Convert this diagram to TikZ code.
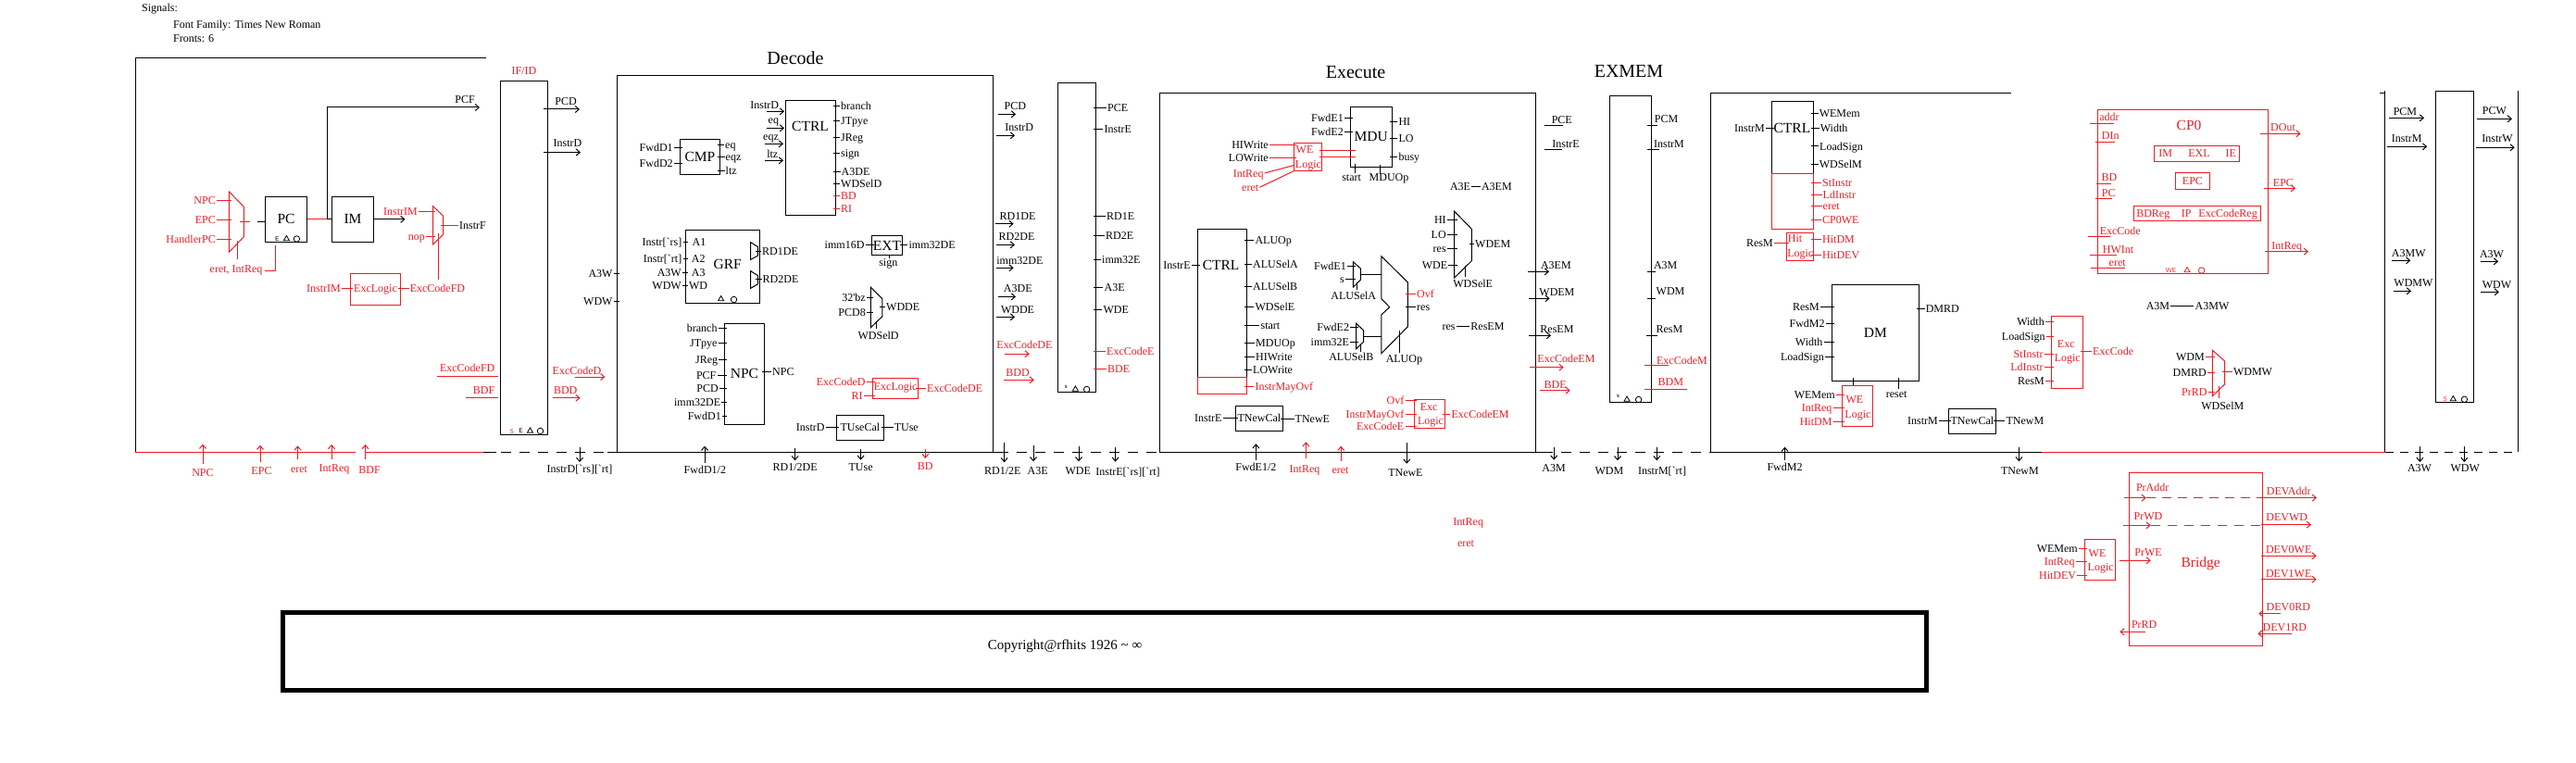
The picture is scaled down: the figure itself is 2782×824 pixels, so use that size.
\documentclass[tikz,border=0pt]{standalone}
\usepackage{fontspec}
\setmainfont[Ligatures=TeXOff]{Liberation Serif}
\usepackage{xcolor}
\usetikzlibrary{arrows.meta,positioning,calc,fit,shapes.geometric}
\definecolor{ink}{HTML}{000000}
\definecolor{hotred}{HTML}{ED1C24}
\tikzset{
  >={Straight Barb[length=4pt,width=7pt]},
  wire/.style={line width=1pt},
  stub/.style={line width=1pt,shorten >=-3pt},
  arrowed/.style={->},
  plain/.style={},
  sig/.style={font=\fontsize{12}{14}\selectfont,inner xsep=1pt,inner ysep=0pt,text height=8pt,text depth=0pt},
  bigtext/.style={font=\fontsize{15.5}{18}\selectfont,inner sep=0pt,text height=10pt,text depth=0pt},
  titletext/.style={font=\fontsize{20}{24}\selectfont,inner sep=0pt,text height=13pt,text depth=0pt},
  tinytext/.style={font=\sffamily\fontsize{7}{8}\selectfont,inner sep=0pt},
  block/.style={draw=ink,line width=1pt,inner sep=0pt,font=\fontsize{15.5}{18}\selectfont},
  smallblock/.style={block,font=\fontsize{12}{14}\selectfont},
  redblock/.style={block,draw=hotred,text=hotred,font=\fontsize{12}{14}\selectfont},
  clocktri/.style={regular polygon,regular polygon sides=3,minimum size=7pt,inner sep=0pt,line width=.8pt},
  clockdot/.style={circle,minimum size=6.5pt,inner sep=0pt,line width=.8pt},
}
\begin{document}
\begin{tikzpicture}[x=1pt,y=-1pt]
  \useasboundingbox (0,0) rectangle (2782,824);

  \node[sig,anchor=west] (sigHead) at (152,9) {Signals:};
  \node[sig,anchor=west] (sigFont) at (186,27) {Font Family: Times New Roman};
  \node[sig,anchor=west] (sigSize) at (186,41.5) {Fronts: 6};

  \draw[wire,ink] (525,63) -- (146,63) -- (146,488);
  \draw[wire,hotred] (146,488) -- (384,488);
  \draw[wire,hotred] (394,488) -- (521.5,488);
  \draw[wire,ink] (521.5,488) -- (536,488);
  \draw[wire,ink,dash pattern=on 11pt off 9pt] (541,488) -- (656,488);
  \draw[wire,ink] (656,488) -- (1078,488);
  \draw[wire,ink,dash pattern=on 11pt off 9pt] (1078,488) -- (1252,488);
  \draw[wire,ink] (1252,488) -- (1666,488);
  \draw[wire,ink,dash pattern=on 11pt off 9pt] (1666,488) -- (1847,488);
  \draw[wire,ink] (2171.8,100.3) -- (1847.5,100.3) -- (1847.5,488) -- (2204.6,488);
  \draw[wire,hotred] (2204.6,488) -- (2576,488);
  \draw[wire,ink,dash pattern=on 9pt off 7pt] (2576,488) -- (2719.6,488);
  \draw[wire,ink] (2719.6,488) -- (2719.6,98.3);
  \draw[wire,ink] (2570,100.3) -- (2575.5,100.3);
  \draw[wire,ink] (2575.5,98.3) -- (2575.5,488);

  \node[block,minimum width=406.1pt,minimum height=406.7pt] (decodeBox) at (869.5,284.7) {};
  \node[block,minimum width=405.7pt,minimum height=388pt] (executeBox) at (1455.3,294.3) {};
  \node[titletext] (decodeTitle) at (859,63) {Decode};
  \node[titletext] (executeTitle) at (1464,78.3) {Execute};
  \node[titletext] (exmemTitle) at (1759,77.3) {EXMEM};

  \node[block,minimum width=50.5pt,minimum height=381pt] (regIF) at (566.2,278.5) {};
  \node[block,minimum width=40.7pt,minimum height=334pt] (regDE) at (1162.9,256.3) {};
  \node[block,minimum width=45pt,minimum height=331pt] (regEM) at (1760.7,268.8) {};
  \node[block,minimum width=41pt,minimum height=336pt] (regMW) at (2651.1,266.3) {};

  \node[block,minimum width=45.5pt,minimum height=49.5pt] (pc) at (309,236.8) {PC};
  \node[block,minimum width=45.5pt,minimum height=49.5pt] (im) at (381,236.8) {IM};
  \node[redblock,minimum width=54.4pt,minimum height=34.7pt] (excF) at (405.5,312.6) {ExcLogic};
  \node[block,minimum width=43.2pt,minimum height=38pt] (cmp) at (755.9,169.3) {CMP};
  \node[block,minimum width=54.3pt,minimum height=124pt] (ctrlD) at (875.3,170.3) {};
  \node[block,minimum width=80pt,minimum height=79pt] (grf) at (780.4,287.8) {};
  \node[block,minimum width=42.9pt,minimum height=109pt] (npcBox) at (804,403.8) {NPC};
  \node[block,minimum width=32.9pt,minimum height=21.4pt] (ext) at (957.9,265) {EXT};
  \node[redblock,minimum width=48.5pt,minimum height=22pt] (excD) at (967.2,419.3) {ExcLogic};
  \node[smallblock,minimum width=51.4pt,minimum height=27pt] (tuse) at (928.9,461.8) {TUseCal};
  \node[block,minimum width=45pt,minimum height=65pt] (mdu) at (1480.7,147.8) {MDU};
  \node[redblock,minimum width=30pt,minimum height=30pt] (weE) at (1412.5,169.3) {};
  \node[block,minimum width=53.2pt,minimum height=160pt] (ctrlE) at (1319.8,327.3) {};
  \node[redblock,minimum width=53.2pt,minimum height=18pt] (ctrlEr) at (1319.8,416.3) {};
  \node[redblock,minimum width=32.9pt,minimum height=31pt] (excE) at (1544,446.8) {};
  \node[smallblock,minimum width=51.1pt,minimum height=27pt] (tnewE) at (1359.9,451.8) {TNewCal};
  \node[block,minimum width=45pt,minimum height=78pt] (ctrlM) at (1935.7,148.3) {};
  \node[redblock,minimum width=45pt,minimum height=60pt] (ctrlMr) at (1935.7,217.3) {};
  \node[redblock,minimum width=28.9pt,minimum height=30pt] (hitM) at (1943.8,266.3) {};
  \node[block,minimum width=94.3pt,minimum height=104pt] (dm) at (2025.4,359.3) {DM};
  \node[redblock,minimum width=33.2pt,minimum height=44pt] (weM) at (2005.9,438.3) {};
  \node[smallblock,minimum width=51.1pt,minimum height=27pt] (tnewM) at (2129.9,454.8) {TNewCal};
  \node[redblock,minimum width=184.3pt,minimum height=177pt] (cp0) at (2357.4,206.8) {};
  \node[redblock,minimum width=91.7pt,minimum height=17.4pt] (cpStatus) at (2372.4,166) {};
  \node[redblock,minimum width=36.7pt,minimum height=18.4pt] (cpEpc) at (2367.9,195.5) {EPC};
  \node[redblock,minimum width=137pt,minimum height=16pt] (cpCause) at (2372.8,230.3) {};
  \node[redblock,minimum width=34.3pt,minimum height=78pt] (excM) at (2232.5,380.3) {};
  \node[redblock,minimum width=144pt,minimum height=187pt] (bridge) at (2371.3,603.8) {};
  \node[redblock,minimum width=33.4pt,minimum height=44pt] (weB) at (2268,604.3) {};
  \node[block,line width=5pt,minimum width=1774.9pt,minimum height=84pt] (copyBox) at (1193,703.5) {};
  \node[font=\fontsize{15}{18}\selectfont,inner sep=0pt] (copyText) at (1150,698) {Copyright@rfhits 1926 \textasciitilde{} ∞};

  \foreach \nm/\xa/\xb/\ya/\yb/\yc/\yd/\cc in {
    muxPC/247.4/263.3/207/223.3/255.7/272.3/hotred, muxIF/467.5/478.5/222.6/233/253.4/264/hotred,
    portA/810.7/818.6/261.7/266.7/276/280.3/ink, portB/810.7/818.6/292.7/297.7/306.7/311.3/ink,
    muxWD/940.4/952.9/310.3/322.7/341.7/353.7/ink, muxEM/1570.7/1589.3/228.3/247.3/281.7/300/ink,
    muxA/1461.4/1469.3/282.7/290/302.3/310/ink, muxB/1464.6/1472.5/349.3/356.7/369.3/376.7/ink,
    muxMW/2389.4/2402.6/378.3/390/415/427.7/hotred} {
    \coordinate (\nm A) at (\xa,\ya);
    \coordinate (\nm B) at (\xb,\yd);
    \draw[wire,color=\cc] (\nm A) -- (\xb,\yb) -- (\xb,\yc) -- (\xa,\yd) -- cycle;
    \node[inner sep=0pt,fit=(\nm A)(\nm B)] (\nm) {};
  }
  \coordinate (aluA) at (1491.8,276.7);
  \coordinate (aluB) at (1520.4,381.7);
  \draw[wire,ink] (aluA) -- (1520.4,305) -- (1520.4,352.7) -- (1491.8,381.7) -- (1491.8,340)
    -- (1500.7,331.7) -- (1491.8,322.7) -- cycle;
  \node[inner sep=0pt,fit=(aluA)(aluB)] (alu) {};

  \foreach \nm/\x/\y/\bx/\tc/\cc/\txt in {
    fNpc/234/216/muxPC/hotred/hotred/NPC, fEpc/234/237/muxPC/hotred/hotred/EPC, fHpc/234/258/muxPC/hotred/hotred/HandlerPC,
    fImL/452/228.5/muxIF/hotred/hotred/InstrIM, fNop/460/255/muxIF/hotred/hotred/nop, fImX/369/311.5/excF/hotred/hotred/InstrIM,
    dA3w/662.7/295.6/decodeBox/ink/ink/A3W, dWdw/662.7/325/decodeBox/ink/ink/WDW,
    dFwdA/727.9/159.3/cmp/ink/ink/FwdD1, dFwdB/727.9/176.7/cmp/ink/ink/FwdD2,
    dRs/737.5/261.7/grf/ink/ink/Instr[`rs], dRt/737.5/279/grf/ink/ink/Instr[`rt], dGa/737/294/grf/ink/ink/A3W, dGw/737/308.3/grf/ink/ink/WDW,
    dNb/775.7/354/npcBox/ink/ink/branch, dNj/775.7/370.7/npcBox/ink/ink/JTpye, dNr/776.4/388.3/npcBox/ink/ink/JReg,
    dNf/774.6/405.7/npcBox/ink/ink/PCF, dNd/777/419.7/npcBox/ink/ink/PCD, dNi/779.3/434/npcBox/ink/ink/imm32DE, dNw/780/449.7/npcBox/ink/ink/FwdD1,
    dImm/934.6/264.7/ext/ink/ink/imm16D, dBz/936/321/muxWD/ink/ink/32'bz, dPc8/936/337.3/muxWD/ink/ink/PCD8,
    dXc/935.7/412.7/excD/hotred/hotred/ExcCodeD, dXr/932.9/427.3/excD/hotred/hotred/RI, dTu/891.8/461/tuse/ink/ink/InstrD,
    eFwdA/1452/127.7/mdu/ink/ink/FwdE1, eFwdB/1452/142.3/mdu/ink/ink/FwdE2,
    eHiw/1371/156.7/weE/ink/hotred/HIWrite, eLow/1371/171/weE/ink/hotred/LOWrite,
    eMh/1562.9/237.7/muxEM/ink/ink/HI, eMl/1562.9/253.7/muxEM/ink/ink/LO, eMr/1562.9/268.7/muxEM/ink/ink/res, eMw/1564.3/286.7/muxEM/ink/ink/WDE,
    eCt/1287/286.7/ctrlE/ink/ink/InstrE, eAa/1455/287.7/muxA/ink/ink/FwdE1, eAs/1452.9/301.7/muxA/ink/ink/s,
    eBa/1458.2/353.7/muxB/ink/ink/FwdE2, eBi/1458.2/369/muxB/ink/ink/imm32E,
    eXo/1517.5/432.7/excE/hotred/hotred/Ovf, eXm/1517.5/447/excE/hotred/hotred/InstrMayOvf, eXc/1517.5/460.7/excE/hotred/hotred/ExcCodeE,
    eTn/1320.7/451.7/tnewE/ink/ink/InstrE,
    mCt/1907/138.7/ctrlM/ink/ink/InstrM, mHr/1916/262.3/hitM/ink/hotred/ResM,
    mDr/1966/331.7/dm/ink/ink/ResM, mDf/1971.8/349.7/dm/ink/ink/FwdM2, mDw/1969.6/369.7/dm/ink/ink/Width, mDl/1971/385.3/dm/ink/ink/LoadSign,
    mWw/1983/426.7/weM/ink/hotred/WEMem, mWi/1979.6/440/weM/hotred/hotred/IntReq, mWh/1979.6/455.7/weM/hotred/hotred/HitDM,
    mTn/2094/454.7/tnewM/ink/ink/InstrM,
    mXw/2209/347.7/excM/ink/hotred/Width, mXl/2209.8/363.3/excM/ink/hotred/LoadSign, mXs/2207.9/382.7/excM/hotred/hotred/StInstr,
    mXd/2207.9/396/excM/hotred/hotred/LdInstr, mXr/2209/411.7/excM/ink/hotred/ResM,
    wMd/2382/385.3/muxMW/ink/hotred/WDM, wMr/2383.9/402.3/muxMW/ink/hotred/DMRD, wMp/2384.7/423.7/muxMW/hotred/hotred/PrRD,
    bWw/2245/592.7/weB/ink/hotred/WEMem, bWi/2241.7/606/weB/hotred/hotred/IntReq, bWh/2243.3/621.7/weB/hotred/hotred/HitDEV} {
    \node[sig,anchor=east,text=\tc] (\nm) at (\x,\y) {\txt};
    \draw[stub,color=\cc] (\nm.east) -- (\nm.east -| \bx.west);
  }

  \foreach \nm/\x/\y/\bx/\tc/\cc/\txt in {
    fOut/495/243/muxIF/ink/hotred/InstrF, fXc/441.6/311.5/excF/hotred/hotred/ExcCodeFD,
    dEq/782/156.7/cmp/ink/ink/eq, dEz/782.5/169.3/cmp/ink/ink/eqz, dLt/782.5/184/cmp/ink/ink/ltz,
    dCb/907/115/ctrlD/ink/ink/branch, dCj/907/131/ctrlD/ink/ink/JTpye, dCr/907/149/ctrlD/ink/ink/JReg, dCs/907/165.7/ctrlD/ink/ink/sign,
    dCa/907.5/185.7/ctrlD/ink/ink/A3DE, dCw/907/198.7/ctrlD/ink/ink/WDSelD, dCd/907/211.7/ctrlD/hotred/hotred/BD, dCi/907/225.7/ctrlD/hotred/hotred/RI,
    dRa/822/271.3/portA/ink/ink/RD1DE, dRb/822.5/301.7/portB/ink/ink/RD2DE, dNo/833/401.3/npcBox/ink/ink/NPC,
    dEo/980.4/264.7/ext/ink/ink/imm32DE, dWo/956/331.7/muxWD/ink/ink/WDDE, dXo/1000/419.3/excD/hotred/hotred/ExcCodeDE, dTo/964.6/461.7/tuse/ink/ink/TUse,
    eRp/1195/116.7/regDE/ink/ink/PCE, eRi/1191.4/140/regDE/ink/ink/InstrE, eRa/1194/233.3/regDE/ink/ink/RD1E, eRb/1193/254.7/regDE/ink/ink/RD2E,
    eRm/1189/280/regDE/ink/ink/imm32E, eRt/1191.4/310.7/regDE/ink/ink/A3E, eRw/1190.4/334.7/regDE/ink/ink/WDE,
    eRx/1194/379.7/regDE/hotred/hotred/ExcCodeE, eRd/1195/398.7/regDE/hotred/hotred/BDE,
    eUh/1509.3/131.3/mdu/ink/ink/HI, eUl/1509.3/149.3/mdu/ink/ink/LO, eUb/1509.3/170/mdu/ink/ink/busy,
    eCa/1354.3/259/ctrlE/ink/ink/ALUOp, eCb/1352/285.7/ctrlE/ink/ink/ALUSelA, eCc/1352/309.7/ctrlE/ink/ink/ALUSelB, eCd/1354.3/331.7/ctrlE/ink/ink/WDSelE,
    eCe/1360.4/351/ctrlE/ink/ink/start, eCf/1355/370/ctrlE/ink/ink/MDUOp, eCg/1355/385.7/ctrlE/ink/ink/HIWrite, eCh/1352/399.7/ctrlE/ink/ink/LOWrite,
    eCi/1354.3/417.7/ctrlEr/hotred/hotred/InstrMayOvf, eMo/1592/263.3/muxEM/ink/ink/WDEM,
    eOv/1529/317.7/alu/hotred/hotred/Ovf, eRs/1529/331.3/alu/ink/ink/res, eXo2/1566.4/447.7/excE/hotred/hotred/ExcCodeEM, eTo/1397.5/452.7/tnewE/ink/ink/TNewE,
    mCa/1963.6/122.7/ctrlM/ink/ink/WEMem, mCb/1964.6/138.7/ctrlM/ink/ink/Width, mCc/1964/158/ctrlM/ink/ink/LoadSign, mCd/1963.6/177.3/ctrlM/ink/ink/WDSelM,
    mCe/1967/197/ctrlMr/hotred/hotred/StInstr, mCf/1967.5/210/ctrlMr/hotred/hotred/LdInstr, mCg/1967.5/222.3/ctrlMr/hotred/hotred/eret, mCh/1967/237.7/ctrlMr/hotred/hotred/CP0WE,
    mHa/1967/258/hitM/hotred/hotred/HitDM, mHb/1967/275.7/hitM/hotred/hotred/HitDEV, mDo/2078.6/333.7/dm/ink/ink/DMRD, mTo/2165.4/454.7/tnewM/ink/ink/TNewM,
    mXo/2259/379.7/excM/hotred/hotred/ExcCode, wMo/2410.8/401.7/muxMW/ink/hotred/WDMW} {
    \node[sig,anchor=west,text=\tc] (\nm) at (\x,\y) {\txt};
    \draw[stub,color=\cc] (\nm.west) -- (\nm.west -| \bx.east);
  }

  \foreach \nm/\xa/\xb/\y/\lx/\ly/\cc/\tip/\txt in {
    fPcd/587/626/118/611/109.5/ink/arrowed/PCD, fIns/587/627/164.5/613/154.5/ink/arrowed/InstrD,
    fXd/620.7/653.4/407/623/400/hotred/arrowed/ExcCodeD, fBd/597/626.6/429.7/610.7/421.3/hotred/arrowed/BDD,
    fXf/472/538/406/504.7/397.3/hotred/plain/ExcCodeFD, fBf/503/538/429/522.6/421.3/hotred/plain/BDF,
    dIi/827.5/847/120.3/825.7/113.3/ink/arrowed/InstrD, dIe/827.5/847/138.3/835.4/130/ink/arrowed/eq,
    dIz/826/846/155.3/832.5/147.7/ink/arrowed/eqz, dIl/826/846/173.3/834.3/167/ink/arrowed/ltz,
    dOp/1077.5/1097/123.3/1096.4/114.7/ink/arrowed/PCD, dOi/1076/1096/146.3/1100.7/137.7/ink/arrowed/InstrD,
    dOa/1075/1094.6/241.7/1099/233.7/ink/arrowed/RD1DE, dOb/1076/1096/264.3/1098/255.7/ink/arrowed/RD2DE,
    dOm/1076/1094.6/289.3/1101.4/281.7/ink/arrowed/imm32DE, dOt/1077.5/1097/320.3/1099.3/311.7/ink/arrowed/A3DE,
    dOw/1076/1096/342.3/1099/334.7/ink/arrowed/WDDE, dOx/1084.6/1111.8/382.3/1106.4/372.7/hotred/arrowed/ExcCodeDE,
    dOd/1084/1116.8/410.3/1099/402.7/hotred/arrowed/BDD,
    ePc/1668/1688/135.7/1686.8/129.3/ink/plain/PCE, eIn/1668/1686.8/161.3/1691/155.7/ink/plain/InstrE,
    eAt/1650.4/1673/293.3/1680.4/286.7/ink/arrowed/A3EM, eWd/1651/1673.6/322.3/1681.4/315.7/ink/arrowed/WDEM,
    eRm2/1651/1675/362.3/1681.4/355.7/ink/arrowed/ResEM, eXa/1652/1688.6/396.7/1691.4/387.7/hotred/arrowed/ExcCodeEM,
    eBd/1662.5/1695.7/421.7/1679.6/415/hotred/arrowed/BDE,
    mPc/1779/1790/135.7/1799.5/128.7/ink/plain/PCM, mIn/1779/1792/161.3/1802.5/155.7/ink/plain/InstrM,
    mAt/1779/1788/293.3/1798.7/286.7/ink/plain/A3M, mWd/1779/1788/322.3/1804/314.7/ink/plain/WDM,
    mRs/1778/1790.4/362.3/1802.9/355.7/ink/plain/ResM, mXc/1776/1802/394.3/1816.4/389/hotred/plain/ExcCodeM,
    mBd/1776/1821.8/420.3/1804.3/412.7/hotred/plain/BDM,
    cAd/2257/2283.2/133.3/2278/127/hotred/plain/addr, cDi/2262.9/2284/153.3/2279.3/146.7/hotred/plain/DIn,
    cBd/2263.7/2280/198.3/2278/191.7/hotred/plain/BD, cPc/2263/2281/214.3/2277.3/208.7/hotred/plain/PC,
    cXc/2255/2278.5/255.3/2289.8/249/hotred/plain/ExcCode, cHw/2257/2286/275.3/2287.5/269/hotred/plain/HWInt,
    cEr/2257.8/2295/289.3/2286.7/283.3/hotred/plain/eret,
    cDo/2440.9/2484.6/144.3/2465.5/138/hotred/arrowed/DOut, cEp/2445/2479/203.3/2465.9/197.3/hotred/arrowed/EPC,
    cIr/2446/2493/271.7/2469.8/265/hotred/arrowed/IntReq,
    wPm/2579.8/2618/127.3/2597.4/120.3/ink/arrowed/PCM, wIm/2577.9/2621.2/158.3/2599.3/149.7/ink/arrowed/InstrM,
    wAm/2582.6/2603.3/281.3/2601.3/273.7/ink/arrowed/A3MW, wDm/2584.5/2604/314.3/2606.4/305.7/ink/arrowed/WDMW,
    wPw/2675/2712.9/128.3/2693.8/119.7/ink/arrowed/PCW, wIw/2673.9/2715.7/159.3/2697/149.7/ink/arrowed/InstrW,
    wAw/2678.6/2698/282.3/2691/274.7/ink/arrowed/A3W, wDw/2679/2698.9/315.3/2696.5/307.7/ink/arrowed/WDW,
    bPa/2294/2317.7/537.7/2324.7/526.7/hotred/arrowed/PrAddr, bPd/2292.7/2322.7/567.3/2320/557.7/hotred/arrowed/PrWD,
    bPe/2289/2322.7/605.3/2320/596.7/hotred/arrowed/PrWE, bPr/2316.7/2289.3/682.3/2315.7/674.7/hotred/arrowed/PrRD,
    bDa/2440.7/2502/537.7/2471.7/530.7/hotred/arrowed/DEVAddr, bDd/2442.3/2496/566.7/2469.7/558.7/hotred/arrowed/DEVWD,
    bDw/2441.7/2501.7/600.3/2471.7/593.7/hotred/arrowed/DEV0WE, bDx/2441.7/2501.7/625.7/2471.7/619.7/hotred/arrowed/DEV1WE,
    bDr/2463.3/2439.3/662.7/2471.3/655.3/hotred/arrowed/DEV0RD, bDs/2475/2438.3/684.3/2467.3/677.3/hotred/arrowed/DEV1RD} {
    \coordinate (\nm A) at (\xa,\y);
    \coordinate (\nm B) at (\xb,\y);
    \draw[wire,color=\cc,\tip] (\nm A) -- (\nm B);
    \node[sig,text=\cc] (\nm) at (\lx,\ly) {\txt};
  }

  \foreach \nm/\x/\ya/\yb/\lx/\ly/\cc/\txt in {
    vNpc/219/500.7/479.7/219/510/hotred/NPC, vEpc/281/499.3/480.7/282.5/508.4/hotred/EPC, vEret/321.5/495.6/481.4/323/506.8/hotred/eret,
    vReq/358/495.6/480/361/505.7/hotred/IntReq, vBdf/394.5/495.6/480/399/507.4/hotred/BDF, vInd/626/483/499/626/506.8/ink/InstrD[`rs][`rt],
    vFd/761/500/481.7/761.4/507.7/ink/{FwdD1/2}, vRd/858.6/484.3/497.3/858.6/504.7/ink/{RD1/2DE}, vTu/929.6/485/496.7/929.6/504.7/ink/TUse,
    vBd/999.3/485/495/999.3/503.7/hotred/BD, vRe/1084.6/478/499.3/1082.9/508.3/ink/{RD1/2E}, vAe/1116/480.7/498.3/1120.7/508/ink/A3E,
    vWe/1165/481.7/498.3/1164.3/508.7/ink/WDE, vIne/1204.6/482.7/498.7/1218/509/ink/InstrE[`rs][`rt], vFe/1356.4/496.7/479.3/1356.4/504.7/ink/{FwdE1/2},
    vReqE/1410.4/495/477.3/1409/506/hotred/IntReq, vEretE/1448.2/498.3/481.7/1447.5/507.3/hotred/eret, vTn/1519.3/478.3/500.7/1517.9/510.7/ink/TNewE,
    vAm/1678.2/483.3/496.7/1678/505.3/ink/A3M, vWm/1747/483.3/497.3/1737.9/508.3/ink/WDM, vInm/1789.3/483.3/497.3/1795/508/ink/InstrM[`rt],
    vFm/1927.5/496.7/482.7/1927.5/504.7/ink/FwdM2, vTm/2180.4/482.7/498.3/2181.4/508.7/ink/TNewM,
    vAw/2613.4/482.3/499/2613/505.3/ink/A3W, vWw/2661.4/482.3/499/2662.2/505.3/ink/WDW} {
    \coordinate (\nm A) at (\x,\ya);
    \coordinate (\nm B) at (\x,\yb);
    \draw[wire,color=\cc,->] (\nm A) -- (\nm B);
    \node[sig,text=\cc] (\nm) at (\lx,\ly) {\txt};
  }

  \foreach \nm/\x/\y/\cc/\txt in {
    ifTitle/566/77/hotred/{IF/ID}, fSel/255/290/hotred/{eret, IntReq}, fPcf/502/107.5/ink/PCF,
    gA/755/261.7/ink/A1, gB/754.3/279/ink/A2, gC/754.3/294/ink/A3, gD/754/308.3/ink/WD,
    dSg/959.3/283.3/ink/sign, dWs/948.6/362.3/ink/WDSelD,
    eStart/1459.6/191.3/ink/start, eMop/1500/191.7/ink/MDUOp, eWs/1590.7/306.7/ink/WDSelE,
    eSa/1461.8/319.3/ink/ALUSelA, eSb/1459.3/385.7/ink/ALUSelB, eAo/1516.4/387.3/ink/ALUOp,
    a3E/1577/201.7/ink/A3E, a3Em/1616.4/201.7/ink/A3EM, resE/1564.6/352.3/ink/res, resEm/1606.4/352.3/ink/ResEM,
    weEa/1409/161.7/hotred/WE, weEb/1412.9/177.3/hotred/Logic, exEa/1543.2/439/hotred/Exc, exEb/1545/454/hotred/Logic,
    hitA/1938.6/257.7/hotred/Hit, hitB/1944.3/273.3/hotred/Logic, weMa/2002.9/431.7/hotred/WE, weMb/2006.4/447/hotred/Logic,
    exMa/2231.3/371/hotred/Exc, exMb/2232.8/386/hotred/Logic, weBa/2265/597.3/hotred/WE, weBb/2268.7/612.7/hotred/Logic,
    mRst/2048.2/425.7/ink/reset, a3M/2330.4/330.3/ink/A3M, a3Mw/2389/330.3/ink/A3MW, wSl/2400.3/438.7/ink/WDSelM,
    stIm/2338.6/165.7/hotred/IM, stEx/2374.9/165.7/hotred/EXL, stIe/2409.3/165.7/hotred/IE,
    caBd/2325.3/230/hotred/BDReg, caIp/2361.3/230/hotred/IP, caEx/2406.1/230/hotred/ExcCodeReg,
    loReq/1585.7/563.3/hotred/IntReq, loEr/1583/586.7/hotred/eret} {
    \node[sig,text=\cc] (\nm) at (\x,\y) {\txt};
  }

  \foreach \nm/\x/\y/\cc/\txt in {
    ctrlDt/875/136.7/ink/CTRL, grfT/785.7/285/ink/GRF, ctrlEt/1318.6/286.7/ink/CTRL, ctrlMt/1935.4/138.3/ink/CTRL,
    cp0T/2364/135.7/hotred/CP0, bridgeT/2376.7/607/hotred/Bridge} {
    \node[bigtext,text=\cc] (\nm) at (\x,\y) {\txt};
  }

  \foreach \nm/\xa/\ya/\xb/\yb/\cc in {
    selPC/256.4/259.5/256.4/280.4/hotred, selIF/473.3/251.7/473.3/302.4/hotred, extSel/960.7/275.7/960.7/279.3/ink,
    selWD/946.4/346.7/946.4/355/ink, mduA/1463/176.7/1463/186.7/ink, mduB/1490.4/178/1490.4/187.7/ink,
    weOa/1424.6/162.3/1463.6/162.3/hotred, weOb/1424.6/169.3/1463.6/169.3/hotred,
    selEM/1582.5/287.3/1582.5/299.3/ink, selA/1465.4/305/1465.4/312.7/ink, selB/1469/371.7/1469/380/ink,
    aluSel/1511.4/356.7/1511.4/381/ink, rstT/2050.4/408.3/2050.4/420/ink, weMt/2001.4/408.3/2001.4/416.3/ink,
    selMW/2396.8/416.7/2396.8/430/hotred, pcOut/259/239/270/239/hotred} {
    \coordinate (\nm A) at (\xa,\ya);
    \coordinate (\nm B) at (\xb,\yb);
    \draw[wire,color=\cc] (\nm A) -- (\nm B);
  }

  \coordinate (pcJ) at (353.5,236.8);
  \coordinate (pcfEnd) at (518,116);
  \coordinate (imEnd) at (437.5,236.8);
  \coordinate (pcIn) at (278,239);
  \coordinate (pcSelA) at (286,292);
  \coordinate (pcSelB) at (297.7,264.5);
  \draw[wire,hotred] (pc.east) -- (pcJ);
  \draw[wire,ink] (pcJ) -- (im.west);
  \draw[wire,ink,->] (pcJ) |- (pcfEnd);
  \draw[wire,ink,->] (im.east) -- (imEnd);
  \draw[wire,ink] (pcIn) -- (pcIn -| pc.west);
  \draw[wire,hotred] (pcSelA) -| (pcSelB);
  \draw[wire,ink] (muxA.east) -- (muxA.east -| alu.west);
  \draw[wire,ink] (muxB.east) -- (muxB.east -| alu.west);
  \draw[wire,ink] (a3E) -- (a3Em);
  \draw[wire,ink] (resE) -- (resEm);
  \draw[wire,ink] (a3M) -- (a3Mw);

  \node[sig,anchor=east,text=hotred] (eReq) at (1365.7,187) {IntReq};
  \node[sig,anchor=east,text=hotred] (eEr) at (1360.4,202.3) {eret};
  \draw[wire,hotred] (eReq.east) -- ($(weE.south west)!.4!(weE.west)$);
  \draw[wire,hotred] (eEr.east) -- (weE.south west);
  \draw[wire,hotred,dash pattern=on 10pt off 7pt] (bPaB) -- (bPaB -| bridge.east);
  \draw[wire,hotred,dash pattern=on 10pt off 8pt] (bPdB) -- (bPdB -| bridge.east);

  \foreach \nm/\x/\y/\cc in {
    triPC/309.4/258/ink, triIF/572.5/465.5/ink, triGRF/778.6/323/ink, triDE/1161.4/420.5/ink,
    triEM/1757/431.5/ink, triMW/2649.3/431/ink, triCP/2362/292/hotred} {
    \node[clocktri,draw=\cc] (\nm) at (\x,\y) {};
  }
  \foreach \nm/\x/\y/\cc in {
    cirPC/320.4/258/ink, cirIF/583.5/465.5/ink, cirGRF/792.5/323.5/ink, cirDE/1173.6/420.5/ink,
    cirEM/1769.6/431.5/ink, cirMW/2661.4/431.3/ink, cirCP/2377.6/292/hotred} {
    \node[clockdot,draw=\cc] (\nm) at (\x,\y) {};
  }
  \foreach \nm/\x/\y/\cc/\txt in {
    enPC/299.4/258/ink/E, enIF/562.5/465.5/ink/E, stIF/553/466/hotred/S, stDE/1151.4/418/ink/s,
    stEM/1747.5/428/ink/s, stMW/2641/431/hotred/S, enCP/2344.5/291.7/hotred/WE} {
    \node[tinytext,text=\cc] (\nm) at (\x,\y) {\txt};
  }
\end{tikzpicture}
\end{document}
